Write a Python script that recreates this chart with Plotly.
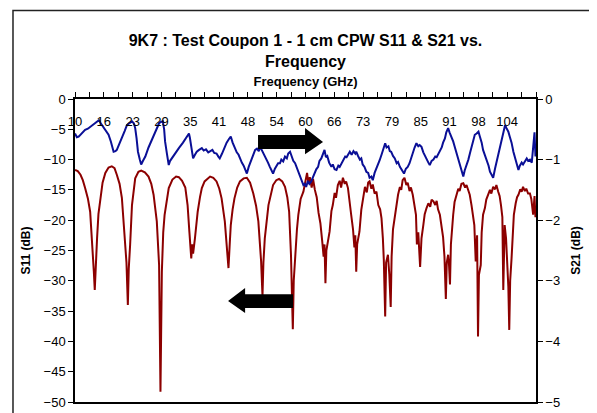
import numpy as np
import plotly.graph_objects as go

# S11 (left axis, dB)
s11_freq = [10.0, 10.6, 11.2, 11.7, 12.2, 12.8, 13.3, 13.8, 14.1, 14.3,
            14.5, 14.8, 15.1, 15.5, 16.0, 16.6, 17.3, 18.0, 18.6, 19.1,
            19.7, 20.2, 20.8, 21.2, 21.5, 21.7, 22.0, 22.4, 23.1, 23.8,
            24.4, 25.2, 26.0, 26.6, 27.1, 27.8, 28.3, 28.6, 28.9, 29.2,
            29.5, 30.0, 30.4, 31.2, 32.0, 32.6, 33.3, 34.0, 34.5, 34.9,
            35.1, 35.3, 35.5, 35.7, 36.1, 36.7, 37.2, 37.6, 38.2, 38.7,
            39.4, 40.1, 40.8, 41.4, 41.9, 42.6, 43.1, 43.4, 43.7, 43.9,
            44.3, 44.7, 45.3, 45.9, 46.7, 47.4, 48.1, 48.8, 49.4, 49.9,
            50.5, 50.8, 51.0, 51.3, 52.1, 52.6, 53.1, 53.8, 54.4, 55.1,
            55.7, 56.2, 56.6, 57.0, 57.4, 57.6, 57.9, 58.3, 58.6, 59.1,
            59.7, 60.1, 60.5, 60.8, 61.1, 61.5, 61.8, 62.2, 62.6, 63.0,
            63.4, 63.8, 64.1, 64.3, 64.5, 64.7, 65.0, 65.4, 65.8, 66.1,
            66.5, 66.8, 67.2, 67.6, 67.9, 68.3, 68.7, 69.0, 69.4, 69.8,
            70.1, 70.5, 70.8, 71.0, 71.2, 71.4, 71.7, 71.9, 72.3, 72.7,
            73.1, 73.5, 73.8, 74.1, 74.5, 74.8, 75.2, 75.6, 76.0, 76.4,
            76.7, 77.0, 77.2, 77.5, 77.7, 78.1, 78.4, 78.7, 78.9, 79.2,
            79.6, 80.0, 80.3, 80.7, 81.0, 81.3, 81.7, 82.1, 82.4, 82.8,
            83.1, 83.5, 83.9, 84.2, 84.4, 84.7, 85.1, 85.4, 85.8, 86.1,
            86.5, 86.9, 87.3, 87.6, 88.0, 88.4, 88.7, 89.0, 89.4, 89.8,
            90.1, 90.4, 90.7, 90.9, 91.2, 91.4, 91.6, 91.8, 92.0, 92.3,
            92.6, 93.0, 93.4, 93.7, 94.1, 94.5, 94.9, 95.2, 95.6, 95.9,
            96.3, 96.6, 96.9, 97.2, 97.5, 97.7, 97.9, 98.3, 98.5, 98.8,
            99.2, 99.5, 99.9, 100.3, 100.6, 101.0, 101.4, 101.7, 102.1, 102.4,
            102.7, 103.0, 103.2, 103.5, 103.8, 104.1, 104.3, 104.5, 104.7, 105.0,
            105.3, 105.5, 105.9, 106.2, 106.5, 106.9, 107.2, 107.5, 107.9, 108.2,
            108.6, 109.0, 109.3, 109.7, 110.0, 110.2]
s11_db = [-11.7, -11.9, -12.5, -13.4, -14.7, -16.4, -18.6, -24.0, -28.5, -31.5,
          -27.0, -23.0, -19.0, -16.3, -13.8, -12.2, -11.3, -11.1, -11.4, -12.5,
          -14.0, -16.3, -22.0, -27.0, -34.0, -28.0, -24.0, -17.5, -13.1, -12.0,
          -11.8, -12.1, -12.8, -14.0, -15.8, -20.2, -27.4, -48.3, -28.5, -22.0,
          -19.1, -16.2, -14.7, -13.3, -12.8, -12.9, -13.5, -14.6, -17.5, -22.0,
          -24.5, -26.3, -24.0, -25.5, -23.0, -18.6, -16.2, -14.7, -13.6, -13.2,
          -12.8, -13.0, -13.6, -14.8, -16.4, -20.2, -24.5, -27.9, -23.5, -20.8,
          -18.2, -16.4, -14.6, -13.6, -13.1, -13.0, -13.8, -15.6, -17.6, -20.2,
          -26.8, -32.5, -27.0, -23.0, -17.5, -15.6, -14.2, -13.4, -13.2, -13.6,
          -14.5, -16.2, -18.6, -25.7, -38.0, -30.0, -25.7, -21.5, -19.1, -16.5,
          -15.3, -13.6, -12.2, -14.0, -12.9, -14.6, -13.2, -15.0, -16.2, -18.8,
          -20.5, -23.5, -26.0, -24.0, -30.4, -25.0, -23.5, -21.9, -18.5, -17.5,
          -15.5, -16.3, -14.2, -13.5, -14.6, -13.0, -14.0, -13.6, -14.7, -16.8,
          -19.1, -21.5, -24.5, -22.5, -28.5, -24.0, -23.0, -21.9, -18.3, -16.4,
          -14.5, -15.4, -13.8, -13.6, -14.8, -14.1, -15.6, -15.3, -17.5, -18.2,
          -19.7, -23.0, -26.5, -35.9, -27.0, -25.7, -29.0, -34.3, -26.0, -21.5,
          -19.1, -17.2, -15.8, -14.5, -15.0, -13.4, -13.0, -14.2, -13.8, -15.2,
          -14.6, -15.8, -17.8, -19.1, -24.0, -22.0, -27.7, -23.0, -20.8, -19.0,
          -18.0, -17.2, -17.8, -16.6, -16.9, -17.5, -16.8, -18.2, -19.1, -21.0,
          -22.8, -26.0, -33.0, -27.0, -25.7, -27.5, -30.6, -24.0, -21.5, -19.1,
          -17.0, -15.8, -14.8, -15.2, -14.0, -13.9, -14.6, -14.2, -15.3, -15.8,
          -17.6, -19.0, -20.8, -26.8, -22.5, -39.2, -29.0, -27.4, -22.0, -19.1,
          -18.0, -16.6, -15.8, -15.0, -15.6, -14.5, -14.9, -14.2, -15.3, -16.0,
          -17.5, -19.5, -31.5, -20.8, -23.0, -27.4, -31.0, -38.1, -30.0, -26.3,
          -21.5, -19.1, -17.2, -16.2, -15.8, -14.9, -15.3, -14.5, -15.2, -14.8,
          -15.6, -15.6, -16.5, -19.1, -16.0, -19.5]

# S21 (right axis, dB)
s21_freq = [10.0, 10.4, 10.8, 11.3, 11.8, 12.2, 12.8, 13.3, 13.8, 14.3,
            14.8, 15.2, 15.6, 15.9, 16.6, 17.3, 17.8, 18.4, 18.8, 19.1,
            19.6, 20.2, 20.8, 21.3, 21.9, 22.4, 22.8, 23.1, 23.4, 23.7,
            24.1, 24.4, 24.8, 25.3, 26.0, 26.8, 27.5, 28.3, 28.7, 29.1,
            29.4, 29.6, 30.0, 30.4, 30.7, 31.1, 31.8, 32.6, 33.5, 34.4,
            34.8, 35.0, 35.4, 35.7, 36.1, 36.5, 37.0, 37.6, 38.0, 38.5,
            39.0, 39.4, 39.9, 40.3, 40.8, 41.2, 41.5, 42.0, 42.6, 43.0,
            43.5, 43.9, 44.3, 44.8, 45.2, 45.6, 45.9, 46.3, 46.7, 47.1,
            47.4, 47.8, 48.1, 48.5, 48.8, 49.2, 49.6, 50.0, 50.3, 50.7,
            51.0, 51.3, 51.7, 52.0, 52.4, 52.8, 53.1, 53.5, 53.8, 54.2,
            54.6, 54.9, 55.3, 55.7, 56.1, 56.4, 56.8, 57.1, 57.5, 57.9,
            58.2, 58.5, 58.9, 59.3, 59.7, 60.0, 60.3, 60.7, 61.0, 61.4,
            61.8, 62.1, 62.5, 62.9, 63.2, 63.6, 64.0, 64.3, 64.6, 64.9,
            65.3, 65.8, 66.1, 66.5, 66.9, 67.3, 67.6, 68.0, 68.4, 68.8,
            69.1, 69.5, 69.8, 70.2, 70.6, 71.0, 71.2, 71.6, 72.0, 72.3,
            72.6, 73.0, 73.4, 73.8, 74.1, 74.5, 74.8, 75.2, 75.6, 76.0,
            76.3, 76.7, 77.1, 77.5, 77.8, 78.2, 78.5, 78.8, 79.2, 79.6,
            80.0, 80.3, 80.7, 81.0, 81.3, 81.6, 82.0, 82.4, 82.8, 83.2,
            83.5, 83.9, 84.3, 84.7, 85.0, 85.4, 85.8, 86.2, 86.5, 86.9,
            87.2, 87.6, 88.0, 88.4, 88.7, 89.0, 89.4, 89.8, 90.1, 90.5,
            90.8, 91.2, 91.5, 91.8, 92.3, 92.6, 93.0, 93.4, 93.8, 94.1,
            94.5, 94.8, 95.2, 95.6, 96.0, 96.3, 96.7, 97.0, 97.4, 97.8,
            98.1, 98.5, 98.8, 99.2, 99.6, 100.0, 100.3, 100.7, 101.0, 101.4,
            101.7, 102.1, 102.5, 102.8, 103.2, 103.6, 103.9, 104.3, 104.6, 105.0,
            105.4, 105.8, 106.1, 106.5, 106.8, 107.2, 107.5, 107.9, 108.3, 108.6,
            109.0, 109.4, 109.7, 110.0, 110.2]
s21_db = [-0.57, -0.63, -0.62, -0.58, -0.55, -0.51, -0.49, -0.46, -0.44, -0.41,
          -0.38, -0.35, -0.40, -0.43, -0.50, -0.59, -0.70, -0.87, -0.86, -0.84,
          -0.75, -0.65, -0.53, -0.43, -0.39, -0.37, -0.40, -0.48, -0.65, -0.87,
          -1.00, -1.08, -1.02, -0.95, -0.80, -0.65, -0.52, -0.40, -0.38, -0.37,
          -0.50, -0.70, -0.90, -1.09, -1.02, -0.98, -0.90, -0.81, -0.72, -0.62,
          -0.57, -0.64, -0.85, -0.98, -0.92, -0.87, -0.84, -0.81, -0.85, -0.83,
          -0.88, -0.86, -0.84, -0.89, -0.90, -0.95, -0.98, -0.90, -0.79, -0.72,
          -0.66, -0.62, -0.72, -0.81, -0.88, -0.92, -0.98, -1.05, -1.10, -1.18,
          -1.23, -1.12, -1.06, -0.96, -0.92, -0.84, -0.82, -0.86, -0.79, -0.85,
          -0.90, -0.94, -0.98, -1.05, -1.12, -1.18, -1.23, -1.15, -1.10, -1.06,
          -1.06, -1.00, -1.03, -0.95, -0.98, -0.90, -0.87, -0.95, -1.02, -1.06,
          -1.12, -1.20, -1.26, -1.35, -1.42, -1.40, -1.45, -1.35, -1.40, -1.36,
          -1.28, -1.24, -1.16, -1.12, -1.02, -0.98, -0.90, -0.84, -0.96, -0.94,
          -1.05, -1.12, -1.08, -1.16, -1.17, -1.10, -1.12, -1.06, -1.00, -0.95,
          -0.96, -0.90, -0.87, -0.92, -0.86, -0.90, -0.87, -0.94, -1.00, -0.98,
          -1.08, -1.12, -1.20, -1.22, -1.30, -1.28, -1.34, -1.22, -1.15, -1.06,
          -1.01, -0.92, -0.84, -0.73, -0.80, -0.78, -0.86, -0.87, -0.94, -0.98,
          -1.06, -1.04, -1.12, -1.15, -1.20, -1.23, -1.15, -1.12, -1.06, -0.95,
          -0.90, -0.80, -0.73, -0.78, -0.76, -0.79, -0.88, -0.95, -1.00, -1.05,
          -1.09, -1.02, -1.00, -0.95, -0.96, -0.92, -0.86, -0.80, -0.72, -0.65,
          -0.55, -0.48, -0.55, -0.60, -0.70, -0.78, -0.88, -1.01, -1.10, -1.18,
          -1.28, -1.18, -1.10, -1.00, -0.88, -0.78, -0.66, -0.59, -0.57, -0.54,
          -0.62, -0.72, -0.84, -0.92, -1.02, -1.10, -1.20, -1.25, -1.30, -1.15,
          -1.05, -0.92, -0.80, -0.66, -0.55, -0.43, -0.48, -0.54, -0.62, -0.72,
          -0.87, -0.98, -1.08, -1.17, -1.10, -1.05, -1.08, -1.03, -0.98, -1.02,
          -1.00, -1.05, -0.81, -0.55, -0.95]

freq_labels = ['10', '16', '23', '29', '35', '41', '48', '54', '60', '66',
               '73', '79', '85', '91', '98', '104']
s11_ticks = [0, -5, -10, -15, -20, -25, -30, -35, -40, -45, -50]
s21_ticks = [0, -1, -2, -3, -4, -5]

# category-style axis: a label every 6.27 GHz, a tick mark every half step
x_lo, x_hi = 10.0, 110.32
tick_pos = np.linspace(x_lo, x_hi, 2 * len(freq_labels) + 1)
label_pos = tick_pos[0:2 * len(freq_labels):2]

font = 'Arial, Liberation Sans, sans-serif'

fig = go.Figure()
fig.add_trace(go.Scatter(x=s11_freq, y=s11_db, mode='lines', name='S11',
                         line=dict(color='#8c0000', width=2)))
fig.add_trace(go.Scatter(x=s21_freq, y=s21_db, mode='lines', name='S21', yaxis='y2',
                         line=dict(color='#0a0f96', width=2)))
# the label axis carries no data of its own; a hidden point keeps it drawn
fig.add_trace(go.Scatter(x=[s11_freq[0]], y=[s11_db[0]], xaxis='x2', mode='markers',
                         marker=dict(opacity=0), hoverinfo='skip', showlegend=False))


def arrow(pts):
    return 'M ' + ' L '.join(f'{x},{y}' for x, y in pts) + ' Z'


# big black arrows pointing to each axis (paper coords)
right_arrow = [(0.397, 0.881), (0.499, 0.881), (0.499, 0.904), (0.538, 0.858),
               (0.499, 0.818), (0.499, 0.835), (0.397, 0.835)]
left_arrow = [(0.473, 0.356), (0.369, 0.356), (0.369, 0.376), (0.332, 0.333),
              (0.369, 0.294), (0.369, 0.310), (0.473, 0.310)]

# the page body adds an 8px offset, so the figure is 8px smaller than the window
fig.update_layout(
    width=589, height=405,
    margin=dict(l=67, r=61, t=91, b=11),
    paper_bgcolor='white', plot_bgcolor='white',
    showlegend=False,
    font=dict(family=font, size=13, color='black'),
    title=dict(text='<b>9K7 : Test Coupon 1 - 1 cm CPW S11 & S21 vs.<br>Frequency</b>',
               x=0.5, xref='paper', xanchor='center',
               y=1 - 38 / 405, yref='container', yanchor='top',
               font=dict(size=16, family=font, color='black')),
    xaxis=dict(range=[x_lo, x_hi], side='top', tickvals=tick_pos, showticklabels=False,
               ticks='outside', ticklen=5, tickcolor='black', tickwidth=1,
               showline=True, linecolor='black', linewidth=1.5, mirror=True,
               showgrid=False, zeroline=False, automargin=False,
               title=dict(text='<b>Frequency (GHz)</b>', font=dict(size=13), standoff=3)),
    xaxis2=dict(range=[x_lo, x_hi], overlaying='x', anchor='free', position=0.958,
                side='bottom', tickvals=label_pos, ticktext=freq_labels,
                ticks='', showline=False, showgrid=False, zeroline=False,
                automargin=False),
    yaxis=dict(range=[-50, 0], tickvals=s11_ticks, ticks='outside', ticklen=5,
               tickcolor='black', showline=True, linecolor='black', linewidth=1.5,
               showgrid=False, zeroline=False, automargin=False,
               title=dict(text='<b>S11 (dB)</b>', font=dict(size=12), standoff=10)),
    yaxis2=dict(range=[-5, 0], tickvals=s21_ticks, overlaying='y', side='right',
                ticks='outside', ticklen=5, tickcolor='black', showline=True,
                linecolor='black', linewidth=1.5, showgrid=False, zeroline=False,
                automargin=False,
                title=dict(text='<b>S21 (dB)</b>', font=dict(size=12), standoff=12)),
    shapes=[
        dict(type='rect', xref='paper', yref='paper', x0=-0.1345, x1=1.1258,
             y0=-0.043, y1=1.292, line=dict(color='#222222', width=1.5)),
        dict(type='path', xref='paper', yref='paper', path=arrow(right_arrow),
             fillcolor='black', line=dict(color='black', width=0)),
        dict(type='path', xref='paper', yref='paper', path=arrow(left_arrow),
             fillcolor='black', line=dict(color='black', width=0)),
    ],
)

fig.write_html('out.html')
